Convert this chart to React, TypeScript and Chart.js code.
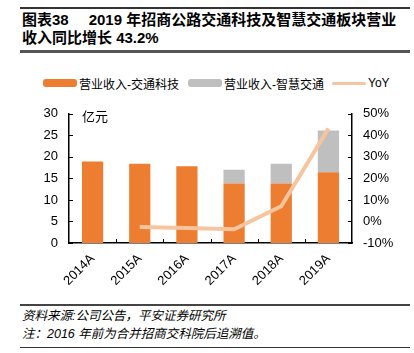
import React, { useEffect, useRef } from "react";
import { Chart, registerables } from "chart.js";

Chart.register(...registerables);

const categories = ["2014A", "2015A", "2016A", "2017A", "2018A", "2019A"];
const techRevenue = [18.9, 18.4, 17.8, 13.8, 13.8, 16.4];
const smartRevenue = [null, null, null, 3.2, 4.6, 9.7];
const yoy = [null, -2.6, -3.0, -3.6, 7.1, 43.2];
const leftTicks = { min: 0, max: 30, step: 5 };
const rightTicks = { min: -10, max: 50, step: 10 };

const FONT = '"Liberation Sans", Arial, "Noto Sans CJK SC", sans-serif';
const ORANGE = "#ED7D31";
const GRAY = "#BFBFBF";
const PEACH = "#F8C49E";

const innerTicks = {
  id: "innerTicks",
  afterDraw(chart: any) {
    const { ctx, chartArea } = chart;
    const y = chart.scales.y;
    const y1 = chart.scales.y1;
    const x = chart.scales.x;
    ctx.save();
    ctx.strokeStyle = "#000";
    ctx.lineWidth = 1;
    ctx.beginPath();
    y.ticks.forEach((t: any) => {
      const py = Math.round(y.getPixelForValue(t.value)) + 0.5;
      ctx.moveTo(chartArea.left, py);
      ctx.lineTo(chartArea.left + 4, py);
    });
    y1.ticks.forEach((t: any) => {
      const py = Math.round(y1.getPixelForValue(t.value)) + 0.5;
      ctx.moveTo(chartArea.right, py);
      ctx.lineTo(chartArea.right - 4, py);
    });
    for (let i = 1; i < categories.length; i++) {
      const px = Math.round((x.getPixelForValue(i - 1) + x.getPixelForValue(i)) / 2) + 0.5;
      ctx.moveTo(px, chartArea.bottom);
      ctx.lineTo(px, chartArea.bottom - 4);
    }
    ctx.stroke();
    ctx.fillStyle = "#000";
    ctx.font = "13px " + FONT;
    ctx.textBaseline = "middle";
    ctx.textAlign = "left";
    ctx.fillText("亿元", chartArea.left + 13, chartArea.top + 4);
    ctx.restore();
  },
};

function ChartCanvas() {
  const ref = useRef<HTMLCanvasElement>(null);
  useEffect(() => {
    if (!ref.current) return;
    Chart.defaults.font.family = FONT;
    const chart = new Chart(ref.current, {
      type: "bar",
      data: {
        labels: categories,
        datasets: [
          {
            type: "line",
            label: "YoY",
            data: yoy as any,
            yAxisID: "y1",
            borderColor: PEACH,
            backgroundColor: PEACH,
            borderWidth: 4,
            pointRadius: 0,
            tension: 0,
            order: 0,
          } as any,
          {
            label: "营业收入-交通科技",
            data: techRevenue,
            backgroundColor: ORANGE,
            yAxisID: "y",
            stack: "s",
            barPercentage: 0.45,
            categoryPercentage: 1,
            order: 1,
          },
          {
            label: "营业收入-智慧交通",
            data: smartRevenue as any,
            backgroundColor: GRAY,
            yAxisID: "y",
            stack: "s",
            barPercentage: 0.45,
            categoryPercentage: 1,
            order: 1,
          },
        ],
      },
      options: {
        animation: false,
        responsive: false,
        maintainAspectRatio: false,
        layout: { padding: { top: 11, left: 0, right: 0, bottom: 0 } },
        plugins: { legend: { display: false }, tooltip: { enabled: false } },
        scales: {
          x: {
            stacked: true,
            grid: { display: false, drawTicks: false },
            border: { display: true, color: "#000", width: 1.5 },
            ticks: {
              minRotation: 45,
              maxRotation: 45,
              color: "#000",
              font: { size: 13, family: FONT },
              padding: 8,
            },
            afterFit: (s: any) => {
              s.height = 57;
            },
          },
          y: {
            stacked: true,
            position: "left",
            min: leftTicks.min,
            max: leftTicks.max,
            grid: { display: false, drawTicks: false },
            border: { display: true, color: "#000", width: 1.5 },
            ticks: {
              stepSize: leftTicks.step,
              color: "#000",
              font: { size: 13, family: FONT },
              padding: 11,
            },
            afterFit: (s: any) => {
              s.width = 69;
            },
          },
          y1: {
            position: "right",
            min: rightTicks.min,
            max: rightTicks.max,
            grid: { display: false, drawTicks: false },
            border: { display: true, color: "#000", width: 1.5 },
            ticks: {
              stepSize: rightTicks.step,
              color: "#000",
              font: { size: 13, family: FONT },
              padding: 11,
              callback: (v: any) => v + "%",
            },
            afterFit: (s: any) => {
              s.width = 62;
            },
          },
        },
      },
      plugins: [innerTicks],
    });
    return () => chart.destroy();
  }, []);
  return (
    <canvas
      ref={ref}
      width={414}
      height={205}
      style={{ position: "absolute", left: 0, top: 95, width: 414, height: 205 }}
    />
  );
}

const legendText: React.CSSProperties = { marginLeft: 2, whiteSpace: "nowrap" };

export default function App() {
  return (
    <div
      style={{
        position: "relative",
        width: 414,
        height: 353,
        background: "#fff",
        fontFamily: FONT,
        color: "#000",
        overflow: "hidden",
      }}
    >
      <style>{`body{margin:0}`}</style>
      <div style={{ position: "absolute", left: 20, top: 7, width: 390, height: 2, background: "#333" }} />
      <div
        style={{
          position: "absolute",
          left: 22,
          top: 11,
          fontSize: 15,
          fontWeight: "bold",
          lineHeight: "18px",
          whiteSpace: "nowrap",
        }}
      >
        <div>
          图表38<span style={{ marginLeft: 20 }}>2019 年招商公路交通科技及智慧交通板块营业</span>
        </div>
        <div>收入同比增长 43.2%</div>
      </div>
      <div style={{ position: "absolute", left: 20, top: 50, width: 390, height: 3, background: "#555" }} />

      <div
        style={{
          position: "absolute",
          left: 43,
          top: 76,
          height: 14,
          display: "flex",
          alignItems: "center",
          fontSize: 12,
        }}
      >
        <div style={{ width: 34, height: 8, background: ORANGE, borderRadius: 3 }} />
        <span style={legendText}>营业收入-交通科技</span>
        <div style={{ width: 34, height: 8, background: GRAY, borderRadius: 3, marginLeft: 9 }} />
        <span style={legendText}>营业收入-智慧交通</span>
        <div style={{ width: 34, height: 3, background: PEACH, borderRadius: 2, marginLeft: 8 }} />
        <span style={legendText}>YoY</span>
      </div>

      <ChartCanvas />

      <div style={{ position: "absolute", left: 20, top: 304, width: 390, height: 2, background: "#444" }} />
      <div
        style={{
          position: "absolute",
          left: 22,
          top: 307,
          fontSize: 12.5,
          fontStyle: "italic",
          lineHeight: "18px",
          whiteSpace: "nowrap",
        }}
      >
        <div>资料来源:公司公告，平安证券研究所</div>
        <div>注：2016 年前为合并招商交科院后追溯值。</div>
      </div>
      <div style={{ position: "absolute", left: 20, top: 347, width: 390, height: 1, background: "#333" }} />
    </div>
  );
}
